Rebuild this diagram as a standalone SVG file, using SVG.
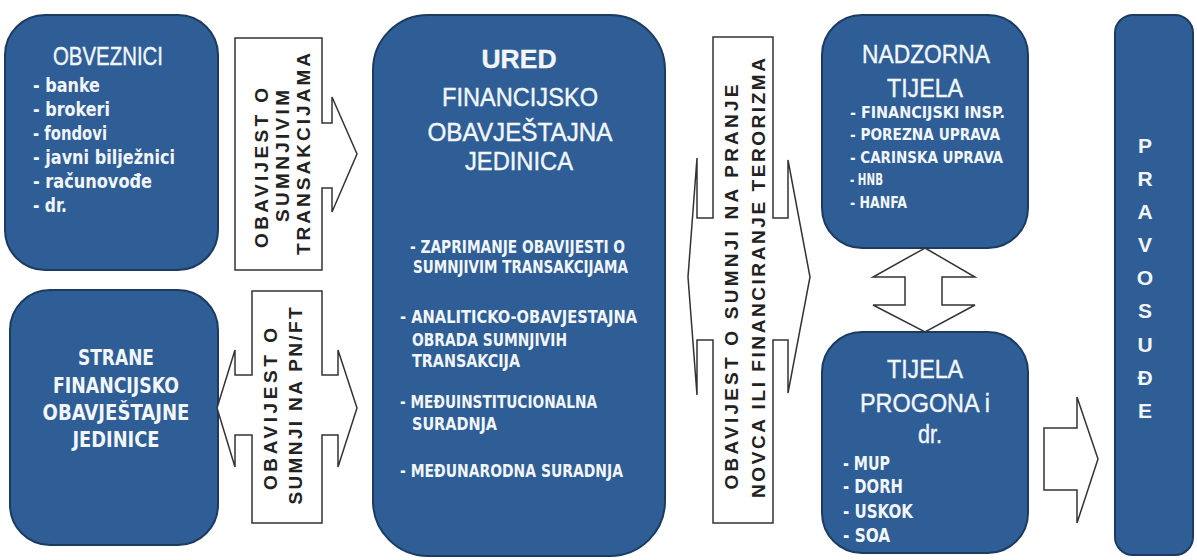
<svg xmlns="http://www.w3.org/2000/svg" width="1197" height="560" viewBox="0 0 1197 560">
<style>
.box{fill:#2E5E95;stroke:#1C3B60;stroke-width:2}
.arr{fill:#fff;stroke:#333;stroke-width:1.5;stroke-linejoin:miter}
.t{font-family:"Liberation Sans",Arial,sans-serif;fill:#F2F6FB;stroke:#F2F6FB;stroke-width:0.4}
.ti{font-size:26px;text-anchor:middle}
.c{font-family:"Liberation Sans Narrow","DejaVu Sans Condensed","Liberation Sans",sans-serif;font-weight:bold;font-stretch:condensed;fill:#F2F6FB}
.vt{font-family:"Liberation Sans",Arial,sans-serif;font-weight:bold;font-size:19px;fill:#222;text-anchor:middle}
.pl{font-family:"Liberation Sans",Arial,sans-serif;font-weight:bold;font-size:21px;fill:#F2F6FB;text-anchor:middle}
</style>
<rect width="1197" height="560" fill="#fff"/>

<g id="obveznici">
<rect class="box" x="5" y="15" width="213" height="255" rx="40"/>
<text class="t ti" x="108" y="65" textLength="110" lengthAdjust="spacingAndGlyphs">OBVEZNICI</text>
<g class="c" font-size="19.5">
<text x="33" y="92" textLength="67" lengthAdjust="spacingAndGlyphs">- banke</text>
<text x="33" y="116" textLength="77" lengthAdjust="spacingAndGlyphs">- brokeri</text>
<text x="33" y="140" textLength="74" lengthAdjust="spacingAndGlyphs">- fondovi</text>
<text x="33" y="164" textLength="142" lengthAdjust="spacingAndGlyphs">- javni bilježnici</text>
<text x="33" y="188" textLength="119" lengthAdjust="spacingAndGlyphs">- računovođe</text>
<text x="33" y="212" textLength="34" lengthAdjust="spacingAndGlyphs">- dr.</text>
</g>
</g>

<g id="strane">
<rect class="box" x="10" y="290" width="208" height="255" rx="40"/>
<g class="c" font-size="21" text-anchor="middle">
<text x="116" y="365" textLength="76" lengthAdjust="spacingAndGlyphs">STRANE</text>
<text x="116" y="393" textLength="126" lengthAdjust="spacingAndGlyphs">FINANCIJSKO</text>
<text x="116" y="420" textLength="147" lengthAdjust="spacingAndGlyphs">OBAVJEŠTAJNE</text>
<text x="116" y="447" textLength="87" lengthAdjust="spacingAndGlyphs">JEDINICE</text>
</g>
</g>

<g id="ured">
<rect class="box" x="373" y="15" width="292" height="541" rx="55"/>
<text class="t ti" x="519" y="68" font-weight="bold" textLength="75" lengthAdjust="spacingAndGlyphs">URED</text>
<text class="t ti" x="520" y="106" font-size="25" textLength="156" lengthAdjust="spacingAndGlyphs">FINANCIJSKO</text>
<text class="t ti" x="520" y="141" font-size="25" textLength="185" lengthAdjust="spacingAndGlyphs">OBAVJEŠTAJNA</text>
<text class="t ti" x="519" y="170" font-size="25" textLength="108" lengthAdjust="spacingAndGlyphs">JEDINICA</text>
<g class="c" font-size="18">
<text x="410" y="253" textLength="215" lengthAdjust="spacingAndGlyphs">- ZAPRIMANJE OBAVIJESTI O</text>
<text x="413" y="273" textLength="215" lengthAdjust="spacingAndGlyphs">SUMNJIVIM TRANSAKCIJAMA</text>
<text x="400" y="323" textLength="237" lengthAdjust="spacingAndGlyphs">- ANALITICKO-OBAVJESTAJNA</text>
<text x="412" y="346" textLength="155" lengthAdjust="spacingAndGlyphs">OBRADA SUMNJIVIH</text>
<text x="412" y="367" textLength="108" lengthAdjust="spacingAndGlyphs">TRANSAKCIJA</text>
<text x="400" y="408" textLength="197" lengthAdjust="spacingAndGlyphs">- MEĐUINSTITUCIONALNA</text>
<text x="412" y="430" textLength="85" lengthAdjust="spacingAndGlyphs">SURADNJA</text>
<text x="400" y="477" textLength="223" lengthAdjust="spacingAndGlyphs">- MEĐUNARODNA SURADNJA</text>
</g>
</g>

<g id="nadzorna">
<rect class="box" x="822" y="15" width="206" height="233" rx="40"/>
<text class="t ti" x="926" y="63" textLength="128" lengthAdjust="spacingAndGlyphs">NADZORNA</text>
<text class="t ti" x="925" y="97" textLength="76" lengthAdjust="spacingAndGlyphs">TIJELA</text>
<g class="c" font-size="16.5">
<text x="850" y="118" textLength="155" lengthAdjust="spacingAndGlyphs">- FINANCIJSKI INSP.</text>
<text x="850" y="140" textLength="150" lengthAdjust="spacingAndGlyphs">- POREZNA UPRAVA</text>
<text x="850" y="163" textLength="153" lengthAdjust="spacingAndGlyphs">- CARINSKA UPRAVA</text>
<text x="850" y="185" textLength="33" lengthAdjust="spacingAndGlyphs">- HNB</text>
<text x="850" y="208" textLength="57" lengthAdjust="spacingAndGlyphs">- HANFA</text>
</g>
</g>

<g id="tijela-progona">
<rect class="box" x="822" y="332" width="206" height="221" rx="40"/>
<text class="t ti" x="925" y="378" textLength="76" lengthAdjust="spacingAndGlyphs">TIJELA</text>
<text class="t ti" x="925" y="412" textLength="130" lengthAdjust="spacingAndGlyphs">PROGONA i</text>
<text class="t ti" x="930" y="443" textLength="24" lengthAdjust="spacingAndGlyphs">dr.</text>
<g class="c" font-size="20">
<text x="843" y="470" textLength="47" lengthAdjust="spacingAndGlyphs">- MUP</text>
<text x="843" y="493" textLength="60" lengthAdjust="spacingAndGlyphs">- DORH</text>
<text x="843" y="518" textLength="70" lengthAdjust="spacingAndGlyphs">- USKOK</text>
<text x="843" y="542" textLength="47" lengthAdjust="spacingAndGlyphs">- SOA</text>
</g>
</g>

<g id="pravosude">
<rect class="box" x="1115" y="15" width="78" height="540" rx="18"/>
<text class="pl" x="1145" y="153">P</text>
<text class="pl" x="1145" y="186">R</text>
<text class="pl" x="1145" y="219">A</text>
<text class="pl" x="1145" y="252">V</text>
<text class="pl" x="1145" y="285">O</text>
<text class="pl" x="1145" y="318">S</text>
<text class="pl" x="1145" y="352">U</text>
<text class="pl" x="1145" y="385">Đ</text>
<text class="pl" x="1145" y="418">E</text>
</g>

<g id="connectors">
<path class="arr" d="M235,38 H322 V123 H332 V97 L357,154 L332,212 V188 H322 V270 H235 Z"/>
<text class="vt" transform="translate(268,168) rotate(-90)" textLength="160">OBAVIJEST O</text>
<text class="vt" transform="translate(289,156) rotate(-90)" textLength="132">SUMNJIVIM</text>
<text class="vt" transform="translate(310,154) rotate(-90)" textLength="202">TRANSAKCIJAMA</text>

<path class="arr" d="M252,291 H322 V375 H338 V350 L357,408 L338,467 V435 H322 V523 H252 V435 H235 V467 L217,408 L235,350 V375 H252 Z"/>
<text class="vt" transform="translate(277,409) rotate(-90)" textLength="162">OBAVIJEST O</text>
<text class="vt" transform="translate(302,406) rotate(-90)" textLength="197">SUMNJI NA PN/FT</text>

<path class="arr" d="M713,37 H773 V218 H788 V160 L810,277 L788,393 V340 H773 V523 H713 V340 H697 V395 L688,277 L697,158 V218 H713 Z"/>
<text class="vt" transform="translate(738,287) rotate(-90)" textLength="405">OBAVIJEST O SUMNJI NA PRANJE</text>
<text class="vt" transform="translate(765,278) rotate(-90)" textLength="440">NOVCA ILI FINANCIRANJE TERORIZMA</text>

<path class="arr" d="M925,248 L975,277 H942 V305 H975 L925,332 L873,305 H905 V277 H873 Z"/>

<path class="arr" d="M1044,428 H1077 V397 L1098,459 L1077,523 V490 H1044 Z"/>
</g>
</svg>
